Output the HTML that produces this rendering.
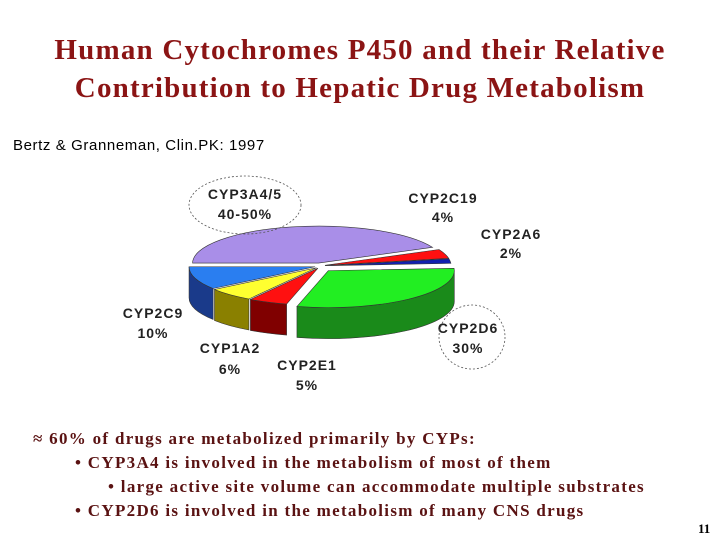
<!DOCTYPE html>
<html><head><meta charset="utf-8"><style>
body{margin:0;background:#fff;width:720px;height:540px;overflow:hidden;position:relative;font-family:"Liberation Serif",serif}
.t{position:absolute;left:0;width:720px;text-align:center;color:#8b1414;font-weight:bold;font-size:29px;letter-spacing:1.2px}
.b{position:absolute;font-weight:bold;font-size:17px;letter-spacing:1.3px;color:#5a1212;white-space:nowrap}
</style></head><body>
<div class="t" style="top:34px">Human Cytochromes P450 and their Relative</div>
<div class="t" style="top:72px">Contribution to Hepatic Drug Metabolism</div>
<div style="position:absolute;left:13px;top:137px;font:15px 'Liberation Sans',sans-serif;letter-spacing:0.6px">Bertz &amp; Granneman, Clin.PK: 1997</div>
<svg id="c" width="720" height="540" style="position:absolute;left:0;top:0"></svg>
<div class="b" style="left:33px;top:429px">≈ 60% of drugs are metabolized primarily by CYPs:</div>
<div class="b" style="left:75px;top:453px">• CYP3A4 is involved in the metabolism of most of them</div>
<div class="b" style="left:108px;top:477px">• large active site volume can accommodate multiple substrates</div>
<div class="b" style="left:75px;top:501px">• CYP2D6 is involved in the metabolism of many CNS drugs</div>
<div style="position:absolute;left:698px;top:521px;font-size:13px;font-weight:bold">11</div>
<script>
const categories=["CYP3A4/5","CYP2C19","CYP2A6","CYP2D6","CYP2E1","CYP1A2","CYP2C9"];
const values=[43,4,2,30,5,6,10];
const topColors=["#a98ee8","#ff1010","#1020b0","#22ee22","#ff1010","#ffff30","#2a7ef0"];
const sideColors=["#6a58a8","#a00000","#000070","#1a8a1a","#800000","#8a8000","#1a3a8a"];
const NS="http://www.w3.org/2000/svg",svg=document.getElementById('c');
const cx=320,cy=266,rx=126,ry=37,depth=31,start=180;
const total=values.reduce((a,b)=>a+b,0);
function ang(v){return v/total*360;}
function pt(x0,y0,a){const r=a*Math.PI/180;return [x0+rx*Math.cos(r),y0+ry*Math.sin(r)];}
let acc=start;const slices=[];
values.forEach((v,i)=>{const a0=acc,a1=acc+ang(v);acc=a1;slices.push({i,a0,a1,mid:(a0+a1)/2});});
slices.sort((p,q)=>Math.sin(p.mid*Math.PI/180)-Math.sin(q.mid*Math.PI/180));
slices.forEach(s=>{
  const ex=s.i===0?5:(s.i===3?10:4);
  const m=s.mid*Math.PI/180,ox=cx+ex*Math.cos(m)*1.3,oy=cy+ex*Math.sin(m)*0.6;
  const g=document.createElementNS(NS,'g');
  
  
  for(let k=-1;k<=1;k++){
    const lo=Math.max(s.a0,k*360),hi=Math.min(s.a1,k*360+180);
    if(hi>lo){
      const p1=pt(ox,oy,lo),p2=pt(ox,oy,hi);
      const w=document.createElementNS(NS,'path');
      w.setAttribute('d',`M${p1[0]},${p1[1]} A${rx},${ry} 0 ${hi-lo>180?1:0} 1 ${p2[0]},${p2[1]} L${p2[0]},${p2[1]+depth} A${rx},${ry} 0 ${hi-lo>180?1:0} 0 ${p1[0]},${p1[1]+depth} Z`);
      w.setAttribute('fill',sideColors[s.i]);w.setAttribute('stroke','#333');w.setAttribute('stroke-width','0.6');
      g.appendChild(w);
    }
  }
  const p1=pt(ox,oy,s.a0),p2=pt(ox,oy,s.a1);
  const t=document.createElementNS(NS,'path');
  t.setAttribute('d',`M${ox},${oy} L${p1[0]},${p1[1]} A${rx},${ry} 0 ${s.a1-s.a0>180?1:0} 1 ${p2[0]},${p2[1]} Z`);
  t.setAttribute('fill',topColors[s.i]);t.setAttribute('stroke','#333');t.setAttribute('stroke-width','0.6');
  g.appendChild(t);svg.appendChild(g);
});
const labels=[["CYP3A4/5",245,199],["40-50%",245,219],["CYP2C19",443,203],["4%",443,222],["CYP2A6",511,239],["2%",511,258],
["CYP2C9",153,318],["10%",153,338],["CYP1A2",230,353],["6%",230,374],["CYP2E1",307,370],["5%",307,390],["CYP2D6",468,333],["30%",468,353]];
labels.forEach(l=>{const e=document.createElementNS(NS,'text');e.setAttribute('x',l[1]);e.setAttribute('y',l[2]);
e.setAttribute('text-anchor','middle');e.setAttribute('font-family','Liberation Sans, sans-serif');e.setAttribute('font-weight','bold');
e.setAttribute('font-size','14');e.setAttribute('letter-spacing','1');e.setAttribute('fill','#222');e.textContent=l[0];


svg.appendChild(e);});
[[245,205,56,29],[472,337,33,32]].forEach((c,k)=>{const e=document.createElementNS(NS,'ellipse');
e.setAttribute('cx',c[0]);e.setAttribute('cy',c[1]);e.setAttribute('rx',c[2]);e.setAttribute('ry',c[3]);
e.setAttribute('fill','none');e.setAttribute('stroke','#555');e.setAttribute('stroke-dasharray','2 2');e.setAttribute('stroke-width','0.8');


svg.appendChild(e);});
</script>
</body></html>
